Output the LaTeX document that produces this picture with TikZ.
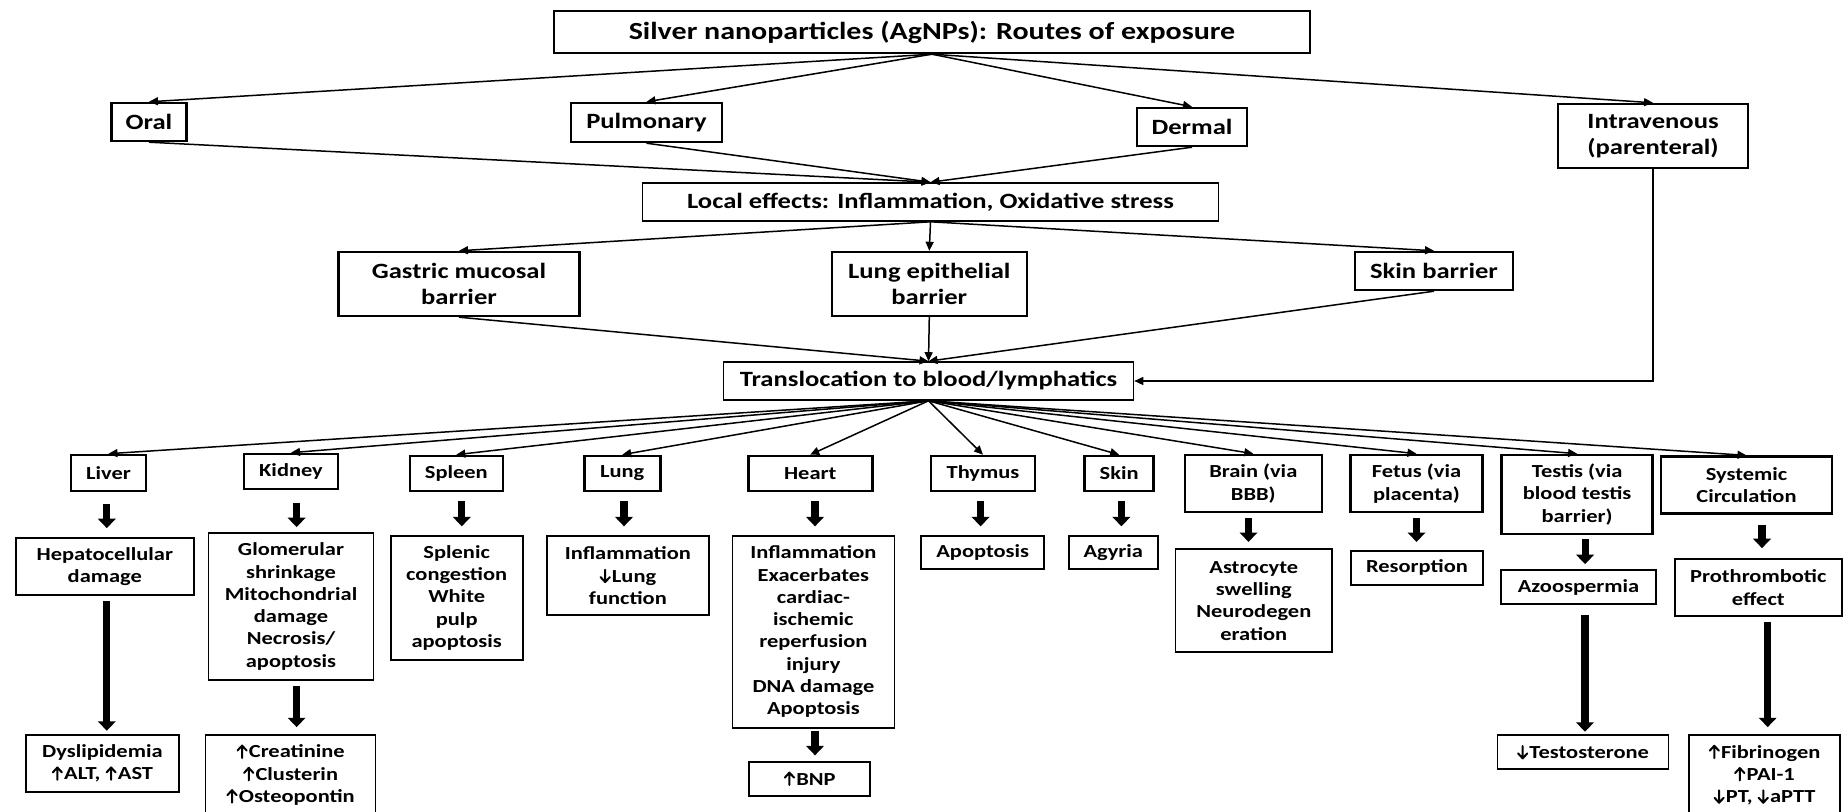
\documentclass[tikz,border=0pt]{standalone}
\usepackage{fontspec}
\setmainfont[FakeStretch=1.22]{Carlito}
\usetikzlibrary{arrows.meta,calc}
\newcommand\ftitle{\fontsize{12.3}{14}\selectfont\bfseries}
\newcommand\ftop{\fontsize{10.9}{12.8}\selectfont\bfseries}
\newcommand\fbody{\fontsize{9.2}{11.15}\selectfont\bfseries}
\newcommand\U{\tikz[baseline=0pt,x=1pt,y=1pt]\draw[line width=1pt,line cap=round,line join=round,-] (2.7,0)--(2.7,6.2) (0.4,3.7)--(2.7,6.2)--(5,3.7);\hspace{0.6pt}}
\newcommand\D{\tikz[baseline=0pt,x=1pt,y=1pt]\draw[line width=1pt,line cap=round,line join=round,-] (2.7,0)--(2.7,6.2) (0.4,2.5)--(2.7,0)--(5,2.5);\hspace{0.6pt}}
\begin{document}
\begin{tikzpicture}[x=0.5pt,y=-0.5pt,
  bx/.style={draw, inner sep=0pt, align=center},
  sz/.style 2 args={minimum width=#1*0.5pt, minimum height=#2*0.5pt},
  topbox/.style={bx, line width=1.2pt, font=\ftop},
  midbox/.style={bx, line width=0.8pt, font=\ftop},
  orgbox/.style={bx, line width=1.3pt, font=\fbody},
  effbox/.style={bx, line width=0.85pt, font=\fbody},
  conn/.style={line width=0.75pt, -{Triangle[length=4.5pt,width=4pt]}},
  big/.style={line width=3.6pt, -{Triangle[length=4.7pt,width=8.7pt]}}
]
\fill[white] (0,0) rectangle (1843,812);
\useasboundingbox (0,0) rectangle (1843,812);

% top levels
\node[topbox,sz={756}{42},font=\ftitle] (title) at (932,32) {Silver nanoparticles (AgNPs): Routes of exposure};
\node[topbox,sz={75}{38}] (oral) at (149,122) {Oral};
\node[topbox,sz={151}{39}] (pulm) at (646.5,122.5) {Pulmonary};
\node[topbox,sz={110}{38}] (derm) at (1192,127) {Dermal};
\node[topbox,sz={190}{64}] (iv) at (1653,136) {Intravenous\\(parenteral)};
\node[midbox,sz={576}{38}] (local) at (930.5,202) {Local effects: Inflammation, Oxidative stress};
\node[topbox,sz={241}{64}] (gast) at (459,284) {Gastric mucosal\\barrier};
\node[topbox,sz={195}{64}] (lungep) at (929.3,284) {Lung epithelial\\barrier};
\node[topbox,sz={158}{38}] (skinb) at (1434,271) {Skin barrier};
\node[midbox,sz={410}{38}] (trans) at (928.5,381) {Translocation to blood/lymphatics};

% organs
\node[orgbox,sz={75}{36}] (liver) at (108.5,473) {Liver};
\node[orgbox,sz={94}{35}] (kidney) at (291,471.5) {Kidney};
\node[orgbox,sz={93}{35}] (spleen) at (456.3,473.5) {Spleen};
\node[orgbox,sz={76}{35}] (lung) at (622.2,473.5) {Lung};
\node[orgbox,sz={124}{35}] (heart) at (810.2,473.5) {Heart};
\node[orgbox,sz={104}{35}] (thymus) at (983,473.5) {Thymus};
\node[orgbox,sz={69}{35}] (skin) at (1119.2,473.5) {Skin};
\node[orgbox,sz={137}{57}] (brain) at (1253.3,483.5) {Brain (via\\BBB)};
\node[orgbox,sz={131.5}{57}] (fetus) at (1416.5,483.5) {Fetus (via\\placenta)};
\node[orgbox,sz={151}{79}] (testis) at (1577.1,494.5) {Testis (via\\blood testis\\barrier)};
\node[orgbox,sz={171}{57}] (syst) at (1746.5,485.2) {Systemic\\Circulation};

% effects
\node[effbox,sz={178}{57}] (hep) at (104.8,566.5) {Hepatocellular\\damage};
\node[effbox,sz={165}{147}] (glom) at (291,606.5) {Glomerular\\shrinkage\\Mitochondrial\\damage\\Necrosis/\\apoptosis};
\node[effbox,sz={132}{124}] (splen) at (456.7,597.8) {Splenic\\congestion\\White\\pulp\\apoptosis};
\node[effbox,sz={162}{79}] (lungeff) at (627.9,575.7) {Inflammation\\\D Lung\\function};
\node[effbox,sz={162}{192}] (hearteff) at (813.4,631.8) {Inflammation\\Exacerbates\\cardiac-\\ischemic\\reperfusion\\injury\\DNA damage\\Apoptosis};
\node[effbox,sz={123}{33}] (apop) at (982.7,552.3) {Apoptosis};
\node[effbox,sz={89}{33}] (agy) at (1113.3,552.3) {Agyria};
\node[effbox,sz={156.5}{103}] (astro) at (1253.8,600.7) {Astrocyte\\swelling\\Neurodegen\\eration};
\node[effbox,sz={132}{34}] (resorp) at (1417,567.8) {Resorption};
\node[effbox,sz={155}{34}] (azoo) at (1578.5,587) {Azoospermia};
\node[effbox,sz={167}{57}] (prothr) at (1758.3,587.5) {Prothrombotic\\effect};

% finals
\node[effbox,sz={153}{57}] (dys) at (102.4,763.5) {Dyslipidemia\\\U ALT, \U AST};
\node[effbox,sz={170}{80}] (creat) at (290.6,775) {\U Creatinine\\\U Clusterin\\\U Osteopontin};
\node[effbox,sz={121}{34}] (bnp) at (809.7,778.8) {\U BNP};
\node[effbox,sz={171}{34}] (testo) at (1583,752.2) {\D Testosterone};
\node[effbox,sz={151}{80}] (fibr) at (1764.5,775) {\U Fibrinogen\\\U PAI-1\\\D PT, \D aPTT};

% thin connectors
\foreach \n in {oral,pulm,derm,iv} \draw[conn] (title.south) -- (\n.north);
\foreach \n in {oral,pulm,derm} \draw[conn] (\n.south) -- (local.north);
\foreach \n in {gast,lungep,skinb} \draw[conn] (local.south) -- (\n.north);
\foreach \n in {gast,lungep,skinb} \draw[conn] (\n.south) -- (trans.north);
\draw[conn] (iv.south) |- (trans.east);
\foreach \n in {liver,kidney,spleen,lung,heart,thymus,skin,brain,fetus,testis,syst}
  \draw[conn] (trans.south) -- (\n.north);

% thick arrows
\draw[big,shorten <=6pt,shorten >=4.5pt] ([xshift=-0.85pt]liver.south) -- ([xshift=-0.85pt]liver.south |- hep.north);
\draw[big,shorten <=2.5pt,shorten >=1.7pt] ([xshift=1pt]hep.south) -- ([xshift=1pt]hep.south |- dys.north);
\draw[big,shorten <=6.3pt,shorten >=2.5pt] ([xshift=2.8pt]kidney.south) -- ([xshift=2.8pt]kidney.south |- glom.north);
\draw[big,shorten <=2.5pt,shorten >=3.5pt] ([xshift=2.8pt]glom.south) -- ([xshift=2.8pt]glom.south |- creat.north);
\draw[big,shorten <=4.5pt,shorten >=4.3pt] ([xshift=2.75pt]spleen.south) -- ([xshift=2.75pt]spleen.south |- splen.north);
\draw[big,shorten <=4.5pt,shorten >=4.5pt] ([xshift=0.9pt]lung.south) -- ([xshift=0.9pt]lung.south |- lungeff.north);
\draw[big,shorten <=4.5pt,shorten >=4.3pt] ([xshift=2.4pt]heart.south) -- ([xshift=2.4pt]heart.south |- hearteff.north);
\draw[big,shorten <=1pt,shorten >=2.8pt] ([xshift=0.8pt]hearteff.south) -- ([xshift=0.8pt]hearteff.south |- bnp.north);
\draw[big,shorten <=4.5pt,shorten >=4.3pt] ([xshift=-1.2pt]thymus.south) -- ([xshift=-1.2pt]thymus.south |- apop.north);
\draw[big,shorten <=4.5pt,shorten >=4.3pt] ([xshift=1.1pt]skin.south) -- ([xshift=1.1pt]skin.south |- agy.north);
\draw[big,shorten <=2.5pt,shorten >=3.2pt] ([xshift=-2.4pt]brain.south) -- ([xshift=-2.4pt]brain.south |- astro.north);
\draw[big,shorten <=2.5pt,shorten >=4pt] (fetus.south) -- (fetus.south |- resorp.north);
\draw[big,shorten <=2pt,shorten >=2.5pt] ([xshift=4pt]testis.south) -- ([xshift=4pt]testis.south |- azoo.north);
\draw[big,shorten <=5pt,shorten >=1.3pt] ([xshift=3.25pt]azoo.south) -- ([xshift=3.25pt]azoo.south |- testo.north);
\draw[big,shorten <=5pt,shorten >=5pt] ([xshift=7.75pt]syst.south) -- ([xshift=7.75pt]syst.south |- prothr.north);
\draw[big,shorten <=2.5pt,shorten >=3.5pt] ([xshift=4.7pt]prothr.south) -- ([xshift=4.7pt]prothr.south |- fibr.north);
\end{tikzpicture}
\end{document}
